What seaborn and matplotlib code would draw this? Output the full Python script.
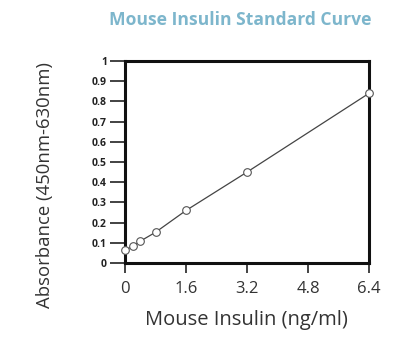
import numpy as np
import pandas as pd
import seaborn as sns
import matplotlib.pyplot as plt

insulin = [0, 0.2, 0.4, 0.8, 1.6, 3.2, 6.4]
absorbance = [0.064, 0.082, 0.108, 0.152, 0.26, 0.45, 0.84]
xticks = [0, 1.6, 3.2, 4.8, 6.4]
xtick_labels = ["0", "1.6", "3.2", "4.8", "6.4"]
yticks = [0, 0.1, 0.2, 0.3, 0.4, 0.5, 0.6, 0.7, 0.8, 0.9, 1]
ytick_labels = ["0", "0.1", "0.2", "0.3", "0.4", "0.5", "0.6", "0.7", "0.8", "0.9", "1"]

df = pd.DataFrame({"insulin": insulin, "absorbance": absorbance})

sns.set_style("ticks")
plt.rcParams['font.family'] = ['Open Sans', 'DejaVu Sans']

fig = plt.figure(figsize=(4.05, 3.51), dpi=100)
ax = fig.add_axes([125/405, 1 - 263/351, 244/405, 202/351])

sns.lineplot(x="insulin", y="absorbance", data=df, color="#444444", linewidth=0.9, ax=ax,
             marker="o", markersize=5.5, markerfacecolor="white", markeredgecolor="#555555",
             markeredgewidth=0.8, clip_on=False, zorder=5)

ax.set_xlim(0, 6.4)
ax.set_ylim(0, 1)
ax.set_xticks(xticks)
ax.set_xticklabels(xtick_labels, fontsize=12, color="#333333")
ax.set_yticks(yticks)
ax.set_yticklabels(ytick_labels, fontsize=7.5, fontweight="bold", color="#222222")
ax.tick_params(axis="y", length=11, width=1.2, pad=2, color="#222222")
ax.tick_params(axis="x", length=7, width=1.2, pad=6, color="#222222")
for s in ax.spines.values():
    s.set_linewidth(2.2)
    s.set_color("#111111")

ax.set_xlabel("")
ax.set_ylabel("")
fig.text(246/405, 1 - 320/351, "Mouse Insulin (ng/ml)", ha="center", va="center",
         fontsize=14.5, color="#333333")
fig.text(45/405, 1 - 185/351, "Absorbance (450nm-630nm)", ha="center", va="center",
         rotation=90, fontsize=13.3, color="#333333")
fig.text(240/405, 1 - 20/351, "Mouse Insulin Standard Curve", ha="center", va="center",
         fontsize=12.6, fontweight="bold", color="#7db6cc")

plt.savefig("out.png", dpi=100)
